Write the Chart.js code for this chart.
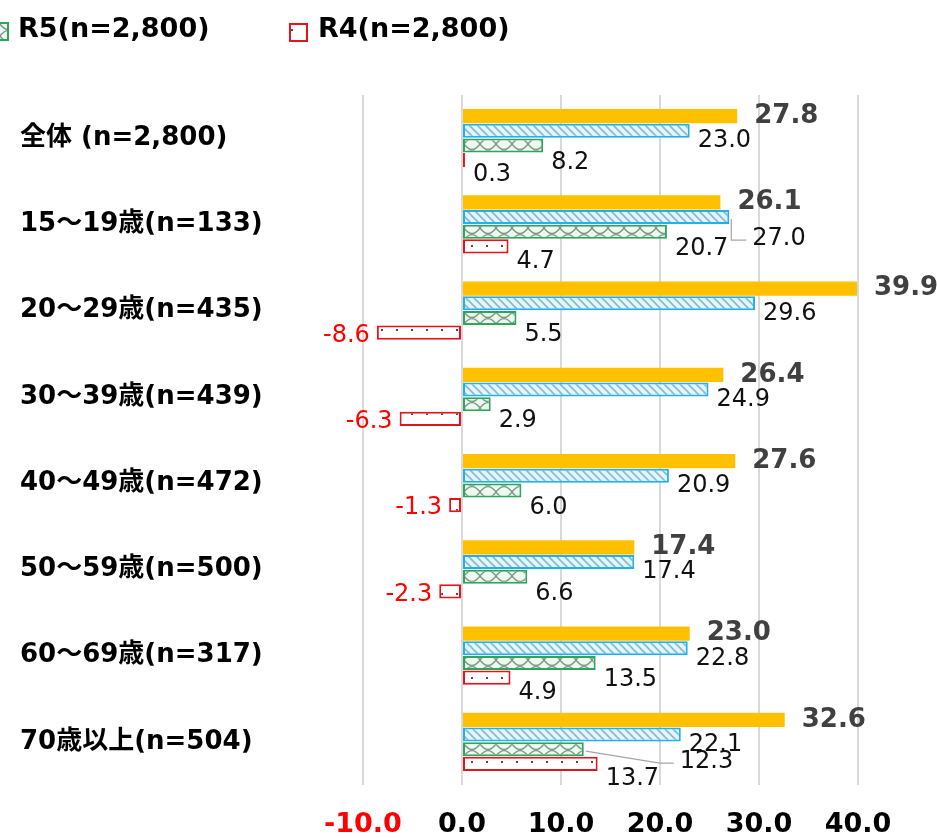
<!DOCTYPE html>
<html lang="ja">
<head>
<meta charset="utf-8">
<title>年代別</title>
<script src="https://cdn.jsdelivr.net/npm/chart.js@4/dist/chart.umd.min.js"></script>
<style>
  html, body { margin: 0; padding: 0; background: #ffffff; }
  #wrap { position: relative; width: 937px; height: 838px; overflow: hidden; }
  canvas { display: block; }
</style>
</head>
<body>
<div id="wrap"><canvas id="chart" width="937" height="838"></canvas></div>
<script>
// Age groups (top to bottom)
const categories = [
  '全体 (n=2,800)',
  '15～19歳(n=133)',
  '20～29歳(n=435)',
  '30～39歳(n=439)',
  '40～49歳(n=472)',
  '50～59歳(n=500)',
  '60～69歳(n=317)',
  '70歳以上(n=504)'
];

// Series names
const seriesNames = ['系列1', '系列2', 'R5(n=2,800)', 'R4(n=2,800)'];

// Values per series, one per age group
const seriesOrange = [27.8, 26.1, 39.9, 26.4, 27.6, 17.4, 23.0, 32.6];
const seriesBlue   = [23.0, 27.0, 29.6, 24.9, 20.9, 17.4, 22.8, 22.1];
const seriesGreen  = [8.2, 20.7, 5.5, 2.9, 6.0, 6.6, 13.5, 12.3];
const seriesRed    = [0.3, 4.7, -8.6, -6.3, -1.3, -2.3, 4.9, 13.7];

// Value axis
const axisMin = -10;
const axisMax = 40;
const axisStep = 10;

// Fill patterns for the hatched bars
function makePattern(w, h, paint) {
  const c = document.createElement('canvas');
  c.width = w; c.height = h;
  const g = c.getContext('2d');
  paint(g, w, h);
  return g.createPattern(c, 'repeat');
}
const ctx = document.getElementById('chart').getContext('2d');

const bluePattern = makePattern(8, 8, (g, w, h) => {
  g.fillStyle = '#e4f5fc';
  g.fillRect(0, 0, w, h);
  g.strokeStyle = '#86b9d3';
  g.lineWidth = 1.6;
  g.beginPath();
  g.moveTo(-2, -2); g.lineTo(w + 2, h + 2);
  g.moveTo(-2 - w, -2); g.lineTo(2, h + 2);
  g.moveTo(w - 2, -2); g.lineTo(2 * w + 2, h + 2);
  g.stroke();
});

const greenPattern = makePattern(16, 12, (g, w, h) => {
  g.fillStyle = '#eef8f1';
  g.fillRect(0, 0, w, h);
  g.strokeStyle = '#7a9a85';
  g.lineWidth = 1.4;
  g.beginPath();
  g.moveTo(0, 0); g.quadraticCurveTo(w / 2, h * 0.9, w, 0);
  g.moveTo(0, h); g.quadraticCurveTo(w / 2, h * 0.1, w, h);
  g.stroke();
});

const redPattern = makePattern(15, 12, (g, w, h) => {
  g.fillStyle = '#ffffff';
  g.fillRect(0, 0, w, h);
  g.fillStyle = '#7a3a3a';
  g.fillRect(6, 5, 2, 2);
});

const seriesStyles = [
  { bg: '#ffc000', border: '#ffc000', width: 0 },
  { bg: bluePattern, border: '#1fb0ee', width: 2 },
  { bg: greenPattern, border: '#2fa55a', width: 2 },
  { bg: redPattern, border: '#e3141c', width: 2 }
];

const seriesValues = [seriesOrange, seriesBlue, seriesGreen, seriesRed];

// Labels pulled away from their bar with a leader line
const callouts = [
  { series: 1, index: 1, dx: 23, dy: 22 },
  { series: 2, index: 7, dx: 96, dy: 13 }
];

const valueFont = '24px "DejaVu Sans", "Noto Sans CJK JP", sans-serif';
const valueFontBold = 'bold 26px "DejaVu Sans", "Noto Sans CJK JP", sans-serif';

// Draws the value next to each bar
const valueLabels = {
  id: 'valueLabels',
  afterDatasetsDraw(chart) {
    const c = chart.ctx;
    c.save();
    c.textBaseline = 'middle';
    chart.data.datasets.forEach((ds, di) => {
      const meta = chart.getDatasetMeta(di);
      meta.data.forEach((bar, i) => {
        const v = ds.data[i];
        const end = bar.x;
        const cy = bar.y;
        const text = v.toFixed(1);
        let x, y, align = 'left', color = '#111111', font = valueFont;
        if (di === 0) {
          x = end + 17; y = cy; font = valueFontBold; color = '#404040';
        } else if (di === 1) {
          x = end + 8; y = cy + 10;
        } else if (di === 2) {
          x = end + 8; y = cy + 17;
        } else {
          if (v < 0) { x = end - 7; y = cy + 3; align = 'right'; color = '#ff0000'; }
          else { x = end + 8; y = cy + 15; }
        }
        const co = callouts.find(o => o.series === di && o.index === i);
        if (co) {
          x = end + co.dx; y = cy + co.dy;
          c.strokeStyle = '#a6a6a6';
          c.lineWidth = 1.2;
          c.beginPath();
          c.moveTo(end + 2, cy + 2);
          if (co.dx > 40) {
            c.lineTo(x - 20, y + 1);
          } else {
            c.lineTo(end + 2, y + 1);
          }
          c.lineTo(x - 6, y + 1);
          c.stroke();
        }
        c.font = font;
        c.fillStyle = color;
        c.textAlign = align;
        c.fillText(text, x, y);
      });
    });
    c.restore();
  }
};

// Legend entries for the two survey rounds
const legendDraw = {
  id: 'legendDraw',
  afterDraw(chart) {
    const c = chart.ctx;
    const items = [
      { ds: 2, box: [-10, 22], text: [18, 30] },
      { ds: 3, box: [289, 23], text: [318, 30] }
    ];
    c.save();
    items.forEach(it => {
      const st = seriesStyles[it.ds];
      c.fillStyle = st.bg;
      c.fillRect(it.box[0], it.box[1], 19, 19);
      c.strokeStyle = st.border;
      c.lineWidth = 2;
      c.strokeRect(it.box[0] + 1, it.box[1] + 1, 17, 17);
      c.font = 'bold 27px "DejaVu Sans", "Noto Sans CJK JP", sans-serif';
      c.fillStyle = '#000000';
      c.textAlign = 'left';
      c.textBaseline = 'middle';
      c.fillText(seriesNames[it.ds], it.text[0], it.text[1]);
    });
    c.restore();
  }
};

const chart = new Chart(ctx, {
  type: 'bar',
  data: {
    labels: categories,
    datasets: seriesValues.map((vals, i) => ({
      label: seriesNames[i],
      data: vals,
      backgroundColor: seriesStyles[i].bg,
      borderColor: seriesStyles[i].border,
      borderWidth: seriesStyles[i].width,
      borderSkipped: false,
      barPercentage: 0.96,
      categoryPercentage: 0.68
    }))
  },
  options: {
    indexAxis: 'y',
    responsive: false,
    devicePixelRatio: 1,
    animation: false,
    layout: { padding: { left: 20, right: 79, top: 95, bottom: 0 } },
    plugins: {
      legend: { display: false },
      tooltip: { enabled: false }
    },
    scales: {
      x: {
        min: axisMin,
        max: axisMax,
        ticks: {
          stepSize: axisStep,
          padding: 24,
          font: { family: '"DejaVu Sans", sans-serif', size: 27, weight: 'bold' },
          color: (c) => (c.tick && c.tick.value < 0 ? '#ff0000' : '#000000'),
          callback: (v) => Number(v).toFixed(1)
        },
        grid: { color: '#d9d9d9', lineWidth: 2, drawTicks: false },
        border: { display: false },
        afterFit: (scale) => { scale.height = 53; }
      },
      y: {
        ticks: {
          crossAlign: 'far',
          padding: 0,
          font: { family: '"DejaVu Sans", "Noto Sans CJK JP", sans-serif', size: 26, weight: 'bold' },
          color: '#000000'
        },
        grid: { display: false, drawTicks: false },
        border: { display: false },
        afterFit: (scale) => {
          scale.width = 343;
          scale.paddingTop = 0;
          scale.paddingBottom = 0;
        }
      }
    }
  },
  plugins: [valueLabels, legendDraw]
});

// Left-align the category labels at the page margin
const yFont = 'bold 26px "DejaVu Sans", "Noto Sans CJK JP", sans-serif';
ctx.save();
ctx.font = yFont;
const widest = Math.max(...categories.map(t => ctx.measureText(t).width));
ctx.restore();
chart.options.scales.y.ticks.padding = Math.max(0, 343 - widest);
chart.update('none');
</script>
</body>
</html>
